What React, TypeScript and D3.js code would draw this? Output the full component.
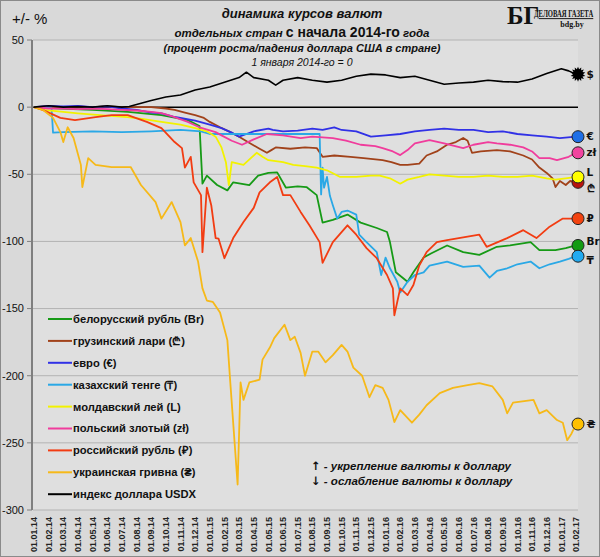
import React from 'react';
import * as d3 from 'd3';

const W = 600;
const H = 557;

// x tick labels, one per month (month index 0 = 01.01.14)
const MONTH_LABELS = [
  '01.01.14', '01.02.14', '01.03.14', '01.04.14', '01.05.14', '01.06.14', '01.07.14', '01.08.14',
  '01.09.14', '01.10.14', '01.11.14', '01.12.14', '01.01.15', '01.02.15', '01.03.15', '01.04.15',
  '01.05.15', '01.06.15', '01.07.15', '01.08.15', '01.09.15', '01.10.15', '01.11.15', '01.12.15',
  '01.01.16', '01.02.16', '01.03.16', '01.04.16', '01.05.16', '01.06.16', '01.07.16', '01.08.16',
  '01.09.16', '01.10.16', '01.11.16', '01.12.16', '01.01.17', '01.02.17',
];
const Y_TICKS = [50, 0, -50, -100, -150, -200, -250, -300];

const SERIES_NAMES = [
  'белорусский рубль (Br)',
  'грузинский лари (₾)',
  'евро (€)',
  'казахский тенге (₸)',
  'молдавский лей (L)',
  'польский злотый (zł)',
  'российский рубль (₽)',
  'украинская гривна (₴)',
  'индекс доллара USDX',
];
const SERIES_SYMBOLS = ['Br', '₾', '€', '₸', 'L', 'zł', '₽', '₴', '$'];

// [month index, % change vs 01.01.2014]
const BYN: [number, number][] = [
  [0, 0], [1.8, -1], [4, -2], [6.4, -3.5], [8.7, -6], [10.5, -9.7], [11.3, -14], [11.5, -57], [11.8, -51],
  [12.5, -58], [13.2, -62], [13.6, -56], [14.7, -58], [15.3, -51], [16, -49], [16.6, -48.6], [17.2, -60],
  [18, -59], [18.6, -59.5], [19.3, -65.5], [19.7, -86], [20.4, -84], [21.4, -80], [22.3, -86], [23.4, -90],
  [24.1, -93], [24.3, -100.5], [24.7, -123], [25.5, -130], [25.9, -123], [26.6, -112], [27.1, -109],
  [28.2, -103], [29.3, -108], [30.4, -110], [31.6, -104], [32.5, -103], [33.9, -100.5], [34.5, -106.5],
  [35.6, -106.5], [36.3, -105], [37, -103],
];
const GEL: [number, number][] = [
  [0, 0], [1, 0.5], [2, 0], [3, 0.5], [4, 0], [5, 0.5], [6, 0], [8, 0], [9, -1], [9.6, -2], [10.3, -4],
  [11, -6], [11.6, -8], [12, -11], [12.7, -15], [13.4, -18.6], [14, -22], [14.6, -26], [15.4, -31],
  [15.9, -34], [16.2, -32], [16.5, -30], [17.5, -31], [18.5, -30], [19.3, -30.5], [19.7, -37], [20.5, -36],
  [21.6, -37], [22.5, -38], [23.8, -39.5], [24.4, -41], [25, -43], [25.5, -43], [26.3, -42], [26.8, -36],
  [27.5, -33], [28.2, -28], [28.8, -26], [29.3, -23], [29.6, -25], [29.9, -34], [30.5, -33], [31.6, -32],
  [32.5, -33], [33.4, -36], [34, -39], [34.5, -45], [35, -49], [35.4, -53], [35.6, -59.5], [35.9, -55],
  [36.3, -58], [36.6, -55], [37, -56],
];
const EUR: [number, number][] = [
  [0, 0], [1, 1], [2, 0.5], [3, 1], [4, 0], [5, 0.5], [6, -1], [7, -2], [8, -4], [8.7, -4.6], [9.5, -7],
  [10, -8], [11, -10], [12, -13], [12.8, -15.6], [13.5, -19], [14, -22], [14.5, -20], [15, -18], [16, -16],
  [16.3, -17], [17, -18], [18, -17.5], [19, -16], [19.7, -17], [20.5, -15], [21, -17], [22, -18], [23, -22],
  [24, -21], [25, -20], [26, -18], [27, -17], [28, -16], [29, -17], [30, -17], [31, -18.6], [32, -18],
  [33, -20], [34, -21], [35, -22], [35.9, -23], [37, -22],
];
const KZT: [number, number][] = [
  [0, 0], [1, -0.5], [1.2, -1], [1.3, -19], [2, -18.6], [4, -18], [6, -18.6], [8, -18], [10, -17],
  [11.4, -18], [12, -20], [14, -20], [16, -20], [18, -20], [19.5, -20], [19.6, -65], [19.7, -45],
  [19.8, -60], [20, -52], [20.2, -66], [20.4, -73], [20.7, -83], [21, -78], [21.4, -77], [22, -80],
  [22.2, -95], [22.7, -100.5], [23.4, -108], [23.7, -125], [24, -112], [24.3, -120], [24.8, -130],
  [25, -138], [25.5, -130], [26, -125], [26.6, -123], [27, -118], [28.2, -115], [29.3, -119], [30.4, -118],
  [31.1, -127], [31.6, -122], [32.3, -120], [33, -117], [33.9, -115], [34.5, -120], [35.2, -117],
  [35.9, -115], [36.5, -113], [37, -111],
];
const MDL: [number, number][] = [
  [0, 0], [0.6, -2], [1.5, -3], [3, -4.6], [4.5, -6], [6.4, -7.5], [7.5, -9], [8.7, -11], [10, -13],
  [11, -15.6], [11.8, -18], [12.4, -22], [12.8, -30], [13.1, -41], [13.3, -58], [13.5, -41], [14.3, -43],
  [14.8, -38], [15.2, -34], [15.6, -37], [16, -39.5], [17, -41], [17.7, -43], [18.5, -44], [19.3, -45],
  [20, -47], [20.9, -52], [22, -52], [23, -51], [23.6, -51], [24.3, -53], [25, -57], [25.5, -54],
  [26.3, -52], [27, -50], [28, -51], [29, -52], [30, -52], [31, -51], [32, -52], [33, -52], [34, -51],
  [35, -53], [35.6, -54], [36.3, -53], [37, -52],
];
const PLN: [number, number][] = [
  [0, 0], [1, -1], [2, -1], [3, -1.5], [4, -1], [5, -1.5], [6, -2], [7, -2.5], [8, -3.5], [8.7, -4.5],
  [9.5, -7], [10.5, -11], [11.3, -15], [12.4, -18.6], [12.8, -21], [13.5, -25], [14.2, -28], [15, -24],
  [15.9, -20], [17, -21], [18.2, -23], [19, -22], [20.4, -23], [21.3, -25], [22.3, -28], [23.3, -29],
  [23.8, -30.5], [24.5, -33], [25, -35.7], [25.5, -32], [26, -27], [27, -24.6], [28, -27], [29.3, -30.5],
  [30, -28], [31, -26], [31.6, -27], [32.5, -28], [33.4, -30], [34, -33], [34.5, -38], [35.2, -38],
  [35.7, -39.5], [36.5, -37], [37, -34],
];
const RUB: [number, number][] = [
  [0, 0], [0.6, -2], [1.8, -8], [2.8, -9.7], [4.2, -7.5], [5.3, -6], [6.4, -6], [7.7, -11], [8.7, -15.6],
  [9.6, -26], [10.1, -30.5], [10.3, -45], [10.7, -37], [10.9, -56], [11.4, -65.5], [11.5, -108], [11.8, -60],
  [12.1, -73], [12.4, -97.5], [12.6, -98], [13, -112.5], [13.6, -97.5], [14.3, -85.6], [15, -75],
  [15.4, -63.5], [16.1, -56], [16.6, -52], [17, -65.5], [17.5, -65.5], [18.2, -78], [18.8, -88],
  [19.5, -100.5], [19.7, -116], [20.4, -100.5], [21.4, -88], [22, -95], [22.7, -105], [23.4, -112.5],
  [24.1, -125], [24.5, -135], [24.6, -155], [25, -135], [25.5, -140], [25.9, -132.5], [26.3, -118],
  [26.8, -108], [27.5, -100.5], [28.2, -99], [29.3, -97], [30.4, -95], [30.9, -104], [32.3, -97.5],
  [33.4, -91.6], [34.3, -97.5], [35.2, -89], [36.1, -83], [37, -83],
];
const UAH: [number, number][] = [
  [0, 0], [0.6, -2], [1.3, -8], [1.8, -18.6], [2, -26], [2.3, -15], [2.7, -23], [3.2, -43], [3.3, -59.5],
  [3.7, -38], [4.2, -43], [5.3, -44.6], [6.6, -44.6], [7.3, -58], [8.3, -70.7], [8.7, -83], [9.4, -70.7],
  [10, -85.6], [10.3, -103], [10.7, -97.5], [11.2, -115], [11.5, -135], [11.8, -144], [12.2, -145],
  [12.7, -153], [13.2, -173.5], [13.4, -205], [13.9, -281], [14.1, -205], [14.3, -218], [14.7, -205],
  [15.4, -203], [15.6, -188], [16.1, -179], [16.4, -172], [17.1, -162], [17.5, -173.5], [17.8, -171],
  [18.2, -183], [18.5, -200], [19, -182], [19.4, -182], [19.9, -190], [20.4, -184.7], [21, -177],
  [21.4, -182], [21.8, -194], [22.4, -200], [22.9, -216], [23.3, -207], [23.8, -209], [24.2, -218],
  [24.6, -234.5], [25, -225.6], [25.8, -235], [26.3, -229], [26.8, -222], [27.7, -213], [28.6, -209],
  [29.6, -207], [30.4, -205.5], [31.3, -208], [32, -218], [32.3, -228], [32.7, -220], [34.1, -218],
  [34.5, -228], [35, -225.6], [35.7, -233], [36.1, -235], [36.4, -248], [36.7, -243], [37, -236],
];
const USDX: [number, number][] = [
  [0, 0], [1, 1], [2, 0], [3, 0.5], [4, 0], [5, 1], [6, 0], [6.5, 0.5], [7, 2], [8, 5], [9, 7.5], [10, 9],
  [11, 12.7], [12, 15], [13, 18.6], [14, 22], [14.5, 26], [15, 22], [16, 20], [16.5, 16.4], [17, 20],
  [18, 22], [19, 20], [20, 18.6], [21, 20], [22, 23], [23, 24.6], [24, 24], [25, 22], [26, 23], [27, 20],
  [28, 17], [29, 18], [30, 18.6], [31, 20], [32, 19], [33, 18.6], [34, 21], [35, 25], [36, 28.6],
  [36.5, 27], [37, 24.5],
];
const SERIES_DATA = [BYN, GEL, EUR, KZT, MDL, PLN, RUB, UAH, USDX];

const LINE_COLORS = ['#169a16', '#a1421a', '#3131e6', '#2aa8e6', '#f2f200', '#f03c9c', '#f23c12', '#f6b919', '#000000'];
const MARKER_COLORS = ['#139b13', '#b8140e', '#1f6fe6', '#22aaf0', '#ffff00', '#f2449f', '#f2420f', '#ffc000', '#000000'];
const LABEL_DY = [-4, 6, 0, 4, -5, 0, 0, 0, 0];

const SANS = '"Liberation Sans", Arial, sans-serif';
const SYM = '"DejaVu Sans", "Liberation Sans", sans-serif';
const SERIF = '"Liberation Serif", serif';

const x = d3.scaleLinear().domain([0, MONTH_LABELS.length - 1]).range([34, 576]);
const y = d3.scaleLinear().domain([-300, 50]).range([510, 40]);

const line = d3
  .line<[number, number]>()
  .x(d => x(d[0]))
  .y(d => y(d[1]));

// spiky "gear" marker for the dollar index
const starPts: [number, number][] = d3.range(28).map(i => [(i / 28) * 2 * Math.PI, i % 2 ? 5 : 7.5]);
const starPath = d3.lineRadial().curve(d3.curveLinearClosed)(starPts) || '';

export default function App() {
  const plotL = 33;
  const plotR = 578;
  const markerX = x(37) + 2;

  return (
    <svg width={W} height={H} style={{ position: 'absolute', left: 0, top: 0 }} fontFamily={SANS}>
      <rect x={0.5} y={0.5} width={W - 1} height={H - 1} fill="#d9d9d9" stroke="#8a8a8a" strokeWidth={1} />
      <rect x={plotL} y={y(50)} width={plotR - plotL} height={y(-300) - y(50)} fill="#dfdfdf" />

      {/* gridlines */}
      {Y_TICKS.map(t => (
        <line
          key={t}
          x1={plotL}
          x2={plotR}
          y1={y(t)}
          y2={y(t)}
          stroke={t === 0 ? '#000' : '#b3b3b3'}
          strokeWidth={t === 0 ? 1.5 : 1}
        />
      ))}

      {/* y axis */}
      <line x1={32} x2={32} y1={y(50)} y2={y(-300)} stroke="#7f7f7f" strokeWidth={2} />
      {Y_TICKS.map(t => (
        <g key={t}>
          <line x1={27} x2={32} y1={y(t)} y2={y(t)} stroke="#7f7f7f" strokeWidth={1} />
          <text x={24} y={y(t)} dy="0.35em" textAnchor="end" fontSize={11} fill="#111">
            {t}
          </text>
        </g>
      ))}

      {/* x tick labels */}
      {MONTH_LABELS.map((lab, i) => (
        <text
          key={lab}
          transform={`translate(${x(i)},517) rotate(-90)`}
          textAnchor="end"
          dy="0.35em"
          fontSize={9}
          fontWeight="bold"
          fill="#222"
        >
          {lab}
        </text>
      ))}

      {/* series */}
      {SERIES_DATA.map((data, i) => (
        <path
          key={i}
          d={line(data) || ''}
          fill="none"
          stroke={LINE_COLORS[i]}
          strokeWidth={i === 8 ? 1.6 : 1.8}
          strokeLinejoin="round"
        />
      ))}

      {/* end markers */}
      {SERIES_DATA.map((data, i) => {
        const last = data[data.length - 1][1];
        const cy = y(last);
        return (
          <g key={i}>
            {i === 8 ? (
              <path d={starPath} transform={`translate(${markerX},${cy})`} fill="#000" />
            ) : (
              <circle cx={markerX} cy={cy} r={6} fill={MARKER_COLORS[i]} stroke="#222" strokeWidth={1} />
            )}
            <text
              x={586.5}
              y={cy + LABEL_DY[i]}
              dy="0.35em"
              fontSize={10.5}
              fontWeight="bold"
              fill="#111"
              fontFamily={SYM}
            >
              {SERIES_SYMBOLS[i]}
            </text>
          </g>
        );
      })}

      {/* legend */}
      {SERIES_NAMES.map((name, i) => {
        const ly = 319 + i * 21.9;
        return (
          <g key={name}>
            <line x1={48} x2={72} y1={ly} y2={ly} stroke={LINE_COLORS[i]} strokeWidth={2} />
            <text x={73} y={ly} dy="0.35em" fontSize={11.2} fontWeight="bold" fill="#111">
              {name}
            </text>
          </g>
        );
      })}

      {/* notes */}
      <text x={311} y={466} dy="0.35em" fontSize={11.5} fontWeight="bold" fill="#111">
        <tspan fontFamily={SYM}>↑</tspan>
        <tspan fontStyle="italic"> - укрепление валюты к доллару</tspan>
      </text>
      <text x={311} y={481} dy="0.35em" fontSize={11.5} fontWeight="bold" fill="#111">
        <tspan fontFamily={SYM}>↓</tspan>
        <tspan fontStyle="italic"> - ослабление валюты к доллару</tspan>
      </text>

      {/* titles */}
      <text x={12} y={24} fontSize={15} fill="#111">
        +/- %
      </text>
      <text x={302} y={18} textAnchor="middle" fontSize={13} fontWeight="bold" fontStyle="italic" fill="#111">
        динамика курсов валют
      </text>
      <text x={302} y={37} textAnchor="middle" fontWeight="bold" fill="#111">
        <tspan fontSize={11.5} fontStyle="italic">отдельных стран </tspan>
        <tspan fontSize={14}>с начала 2014-го</tspan>
        <tspan fontSize={11.5} fontStyle="italic"> года</tspan>
      </text>
      <text x={302} y={52} textAnchor="middle" fontSize={11} fontWeight="bold" fontStyle="italic" fill="#111">
        (процент роста/падения доллара США в стране)
      </text>
      <text x={302} y={66} textAnchor="middle" fontSize={10.5} fontStyle="italic" fill="#111">
        1 января 2014-го = 0
      </text>

      {/* logo */}
      <text x={507} y={24} fontSize={25} fontWeight="bold" fontFamily={SERIF} fill="#111">
        БГ
      </text>
      <text
        transform="translate(534,17) scale(0.7,1)"
        fontSize={9.5}
        fontWeight="bold"
        fontFamily={SERIF}
        fill="#111"
        textDecoration="underline"
      >
        ДЕЛОВАЯ ГАЗЕТА
      </text>
      <text x={572} y={27} textAnchor="middle" fontSize={8} fontWeight="bold" fontFamily={SERIF} fill="#111">
        bdg.by
      </text>
    </svg>
  );
}
